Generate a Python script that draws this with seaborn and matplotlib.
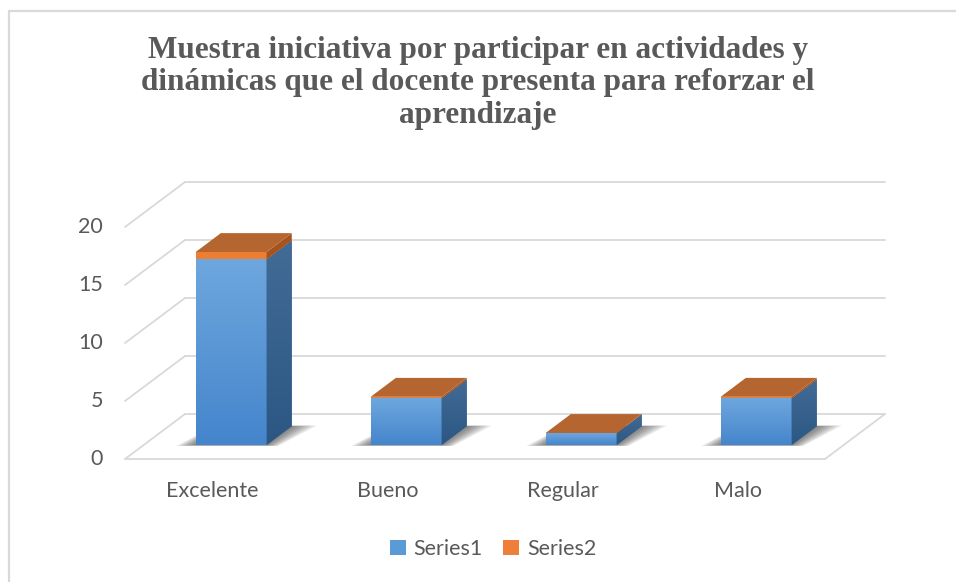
import numpy as np
import pandas as pd
import seaborn as sns
import matplotlib.pyplot as plt
from matplotlib.patches import Polygon, Patch
from matplotlib.lines import Line2D
from matplotlib.colors import LinearSegmentedColormap

categorias = ["Excelente", "Bueno", "Regular", "Malo"]
series1 = [16, 4, 1, 4]
series2 = [0.64, 0.16, 0.04, 0.16]
ticks_y = [0, 5, 10, 15, 20]
leyenda = ["Series1", "Series2"]
titulo = ("Muestra iniciativa por participar en actividades y\n"
          "dinámicas que el docente presenta para reforzar el\n"
          "aprendizaje")

df = pd.DataFrame({"categoria": categorias, "s1": series1, "s2": series2})
df["total"] = df["s1"] + df["s2"]

sns.set_theme(style="white")
plt.rcParams['font.family'] = ['Lato', 'DejaVu Sans']

gris_txt = '#595959'
gris_grid = '#d9d9d9'
azul = '#5b9bd5'
naranja = '#ed7d31'

W, H = 956, 582
fig = plt.figure(figsize=(W / 100, H / 100), dpi=100)
ax = fig.add_axes([0, 0, 1, 1])

# geometria del "3d" (pixeles)
px_cat = 175.0
px_val = 11.6
dpx = (60.0, 45.0)
f0, f1 = 0.31, 0.73
bw = 0.405
x0_px = 125 + 87.5 + f0 * dpx[0]
y0_px = 459 - f0 * dpx[1]
Dx, Dy = dpx[0] / px_cat, dpx[1] / px_val


def prof(f):
    return (f - f0) * Dx, (f - f0) * Dy


# barras frontales (seaborn), total en naranja y serie1 encima
sns.barplot(data=df, x="categoria", y="total", color=naranja, saturation=1,
            width=bw, ax=ax, zorder=3, linewidth=0)
sns.barplot(data=df, x="categoria", y="s1", color=azul, saturation=1,
            width=bw, ax=ax, zorder=3, linewidth=0)

# paredes y rejilla
fx, fy = prof(0)
bx, by = prof(1)
for t in ticks_y:
    ax.plot([-0.5 + bx, 3.5 + bx], [t + by, t + by], color=gris_grid, lw=1.3, zorder=1)
    ax.plot([-0.5 + fx, -0.5 + bx], [t + fy, t + by], color=gris_grid, lw=1.3, zorder=1)
ax.plot([-0.5 + fx, 3.5 + fx], [fy, fy], color=gris_grid, lw=1.3, zorder=1)
ax.plot([3.5 + fx, 3.5 + bx], [fy, by], color=gris_grid, lw=1.3, zorder=1)

cm_front = LinearSegmentedColormap.from_list("f", ['#4585cc', '#6ea7de'])
cm_side = LinearSegmentedColormap.from_list("s", ['#2c5784', '#426c96'])
ddx, ddy = prof(f1)
grad = np.linspace(0, 1, 100).reshape(-1, 1)

for i, bar in enumerate(ax.containers[1]):
    l = bar.get_x()
    r = l + bar.get_width()
    s1 = df["s1"][i]
    tot = df["total"][i]
    # sombra
    for e in np.linspace(0.11, 0.01, 7):
        ev = e * 0.5
        sh = Polygon([(l - e, -ev * 1.5), (r + e * 0.6, -ev * 1.5),
                      (r + ddx + e * 1.3, ddy + ev), (l + ddx - e * 0.3, ddy + ev)],
                     closed=True, fc='#202020', ec='none', alpha=0.1, zorder=2)
        ax.add_patch(sh)
    # degradado frente azul
    ax.imshow(grad, extent=[l, r, 0, s1], origin='lower', aspect='auto',
              cmap=cm_front, zorder=3.5, interpolation='bicubic')
    # lado azul
    lado = Polygon([(r, 0), (r, s1), (r + ddx, s1 + ddy), (r + ddx, ddy)],
                   closed=True, fc='#36628f', ec='none', zorder=4)
    ax.add_patch(lado)
    im = ax.imshow(grad, extent=[r, r + ddx, 0, s1 + ddy], origin='lower',
                   aspect='auto', cmap=cm_side, zorder=4.1, interpolation='bicubic')
    im.set_clip_path(lado)
    # lado naranja
    ax.add_patch(Polygon([(r, s1), (r, tot), (r + ddx, tot + ddy), (r + ddx, s1 + ddy)],
                         closed=True, fc='#a9531c', ec='none', zorder=4.2))
    # tapa
    ax.add_patch(Polygon([(l, tot), (r, tot), (r + ddx, tot + ddy), (l + ddx, tot + ddy)],
                         closed=True, fc='#b5652f', ec='none', zorder=4.3))

# etiquetas del eje y
for t in ticks_y:
    ax.text((103 - x0_px) / px_cat, t + fy, str(t), ha='right', va='center',
            fontsize=15.5, color=gris_txt)
# etiquetas de categorias
for i, c in enumerate(categorias):
    ax.text(i + fx, (y0_px - 491) / px_val, c, ha='center', va='center',
            fontsize=15.5, color=gris_txt)

ax.set_xlim(-x0_px / px_cat, (W - x0_px) / px_cat)
ax.set_ylim((y0_px - H) / px_val, y0_px / px_val)
ax.axis('off')

fig.text(0.5, 1 - 36 / H, titulo, ha='center', va='top', fontsize=22.5,
         fontweight='bold', color=gris_txt, family=['Liberation Serif', 'DejaVu Serif'],
         linespacing=1.15)

handles = [Patch(fc=azul, ec='none'), Patch(fc='#ee7f3a', ec='none')]
fig.legend(handles, leyenda, loc='center', bbox_to_anchor=(493 / W, 1 - 549 / H),
           ncol=2, frameon=False, handlelength=0.75, handleheight=0.75,
           handletextpad=0.35, columnspacing=0.95, fontsize=15.5, labelcolor=gris_txt)

# borde del grafico
fig.add_artist(Line2D([9 / W, 9 / W], [0, 1 - 11 / H], color=gris_grid, lw=1.6))
fig.add_artist(Line2D([9 / W, 1], [1 - 11 / H, 1 - 11 / H], color=gris_grid, lw=1.6))

fig.savefig("out.png", dpi=100)
